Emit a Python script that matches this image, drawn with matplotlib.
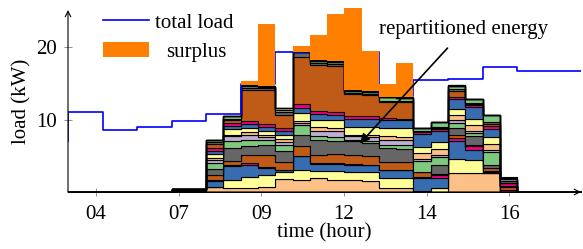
import matplotlib.pyplot as plt
from matplotlib.lines import Line2D
from matplotlib.patches import Patch
import numpy as np

plt.rcParams['font.family'] = 'serif'
plt.rcParams['font.serif'] = ['Liberation Serif', 'DejaVu Serif']

# time slots on the x axis, ticks labelled with the hour
n_slots = 30
tick_pos = [1.61, 6.40, 11.19, 15.97, 20.76, 25.55]
tick_labels = ["04", "07", "09", "12", "14", "16"]

# total load (kW) per slot, the line starts from load_start
load_start = 7.1
total_load = [11.1, 11.1, 8.6, 8.6, 9.0, 9.0, 9.8, 9.8, 10.75, 10.75,
              14.9, 14.9, 19.4, 19.4, 19.4, 19.4, 19.4, 19.4, 13.3, 13.3,
              15.45, 15.45, 15.6, 15.6, 17.35, 17.35, 16.75, 16.75, 16.75, 16.75]

# surplus (kW) stacked above the repartitioned energy
surplus = [0, 0, 0, 0, 0, 0, 0, 0, 0, 0,
           0.65, 8.55, 0, 0.8, 3.5, 6.5, 11.45, 5.5, 1.7, 4.75,
           0, 0, 0, 0, 0, 0, 0, 0, 0, 0]

# repartitioned energy: load of each device (bottom to top) per slot
first_slot = 6
s06 = [.08, .08, .08, .08, .08]
s07 = [.08, .08, .08, .08, .08]
s08 = [.65, .1, .8, .15, .7, .8, .8, .45, .3, .45, .45, .5, .45, .35, .25]
s09 = [.5, 1.2, 1.85, .2, .5, 1.85, .9, .7, .25, .7, .45, .5, .35, .2, .3]
s10 = [.5, 1.6, 1.65, .2, 1.15, 1.2, .9, .7, .45, .5, .6, .3, 4.4, .3, .15, 0, 0, 0, .15]
s11 = [.65, 1.7, 1.0, .1, 1.6, 1.4, .7, .5, .3, .5, .6, .35, 4.65, .3, .15, 0, 0, 0, .15]
s12 = [1.8, .9, .3, .1, 1.0, 1.6, .8, .4, .4, .6, .6, .3, 1.8, .4, .3, .1, .2]
s13 = [1.67, 1.4, 1.85, .1, 1.3, 1.6, 1.3, .3, .3, 1.1, .7, .5, 6.5, .7, .1]
s14 = [1.9, 1.0, 1.0, .1, 1.1, 2.1, .5, .8, .5, 1.0, .8, .4, 6.3, .3, .3, 0, 0, 0, .1]
s15 = [1.7, 1.2, 1.0, .1, 1.2, 1.9, .5, .8, .5, 1.0, .8, .4, 6.3, .3, .3, 0, 0, 0, .1]
s16 = [1.67, 1.15, .93, .1, 1.3, 1.86, .2, .5, .2, 1.1, 1.1, .4, 3.0, .15, .3, 0, 0, 0, .1]
s17 = [1.5, 1.2, 1.0, .1, 1.2, 1.8, .3, .5, .3, 1.1, 1.1, .4, 2.9, .15, .3, 0, 0, 0, .1]
s18 = [.5, 1.4, 1.15, .05, 1.1, 1.87, .43, .7, .5, 1.15, 1.15, .2, 2.3, .1, .5, 0, 0, 0, .1]
s19 = [.6, 1.3, 1.15, .05, 1.1, 1.8, .45, .7, .5, 1.15, 1.15, .2, 2.3, .1, .5, 0, 0, 0, .1]
s20 = [.1, .1, 1.7, .2, .7, 0, 1.45, .35, .8, .8, 1.85, .3, .15, 0, .35]
s21 = [0, .5, 1.5, .35, .2, 1.15, 1.15, .25, .9, .9, 1.5, .35, .1, .1, .75]
s22 = [2.6, 1.9, 2.5, .5, .4, .95, .65, .4, .8, .8, 1.4, .3, .7, .3, .5, 0, 0, 0, .15]
s23 = [2.6, 1.8, 1.4, .6, .15, 1.15, .4, .3, .9, .8, 1.6, .3, .15, .1, .6]
s24 = [2.6, 0, .1, .2, .35, .5, 1.8, .2, .9, .9, 1.2, .4, .3, .2, .95]
s25 = [0, 0, 0, .3, .35, .2, 0, 0, 0, 0, 0, .35, .1, .2, 0, .3, 0, 0, .1, .2]
bar_slots = [s06, s07, s08, s09, s10, s11, s12, s13, s14, s15,
             s16, s17, s18, s19, s20, s21, s22, s23, s24, s25]

accent = ["#7fc97f", "#beaed4", "#fdc086", "#ffff99",
          "#386cb0", "#f0027f", "#bf5b17", "#666666"]
n_layers = 20
layer_colors = [accent[(k + 2) % 8] for k in range(n_layers)]

layers = np.zeros((n_layers, n_slots))
for i, vals in enumerate(bar_slots):
    layers[:len(vals), first_slot + i] = vals

fs = 15
fig = plt.figure(figsize=(5.83, 2.49), dpi=100)
ax = fig.add_axes([68 / 583, 57 / 249, 513 / 583, 182 / 249])

xb = np.arange(n_slots + 1)
bottom = np.zeros(n_slots)
for k in range(n_layers):
    top = bottom + layers[k]
    ax.fill_between(xb, np.append(bottom, bottom[-1]), np.append(top, top[-1]),
                    step='post', facecolor=layer_colors[k], edgecolor='black',
                    linewidth=0.8, zorder=2)
    bottom = top

ax.step(np.r_[0, xb], np.r_[load_start, total_load, total_load[-1]],
        where='post', color='blue', lw=1.2, zorder=3)

sur = np.array(surplus)
ax.fill_between(xb, np.append(bottom, bottom[-1]),
                np.append(bottom + sur, bottom[-1] + sur[-1]),
                step='post', facecolor='#ff8000', edgecolor='none',
                zorder=4, clip_on=False)

ax.text(22.92, 22.5, "repartitioned energy", ha='center', va='center', fontsize=fs)
ax.annotate('', xy=(16.9, 6.7), xytext=(21.97, 19.9),
            arrowprops=dict(arrowstyle='-|>', color='black', lw=1.2,
                            mutation_scale=14, shrinkA=0, shrinkB=0), zorder=5)

ax.set_xlim(0, 29.7)
ax.set_ylim(0, 25.17)
for s in ax.spines.values():
    s.set_visible(False)
for xy in [(1, 0), (0, 1)]:
    ax.annotate('', xy=xy, xytext=(0, 0), xycoords='axes fraction',
                textcoords='axes fraction', annotation_clip=False,
                arrowprops=dict(arrowstyle='->', lw=0.8, color='black',
                                shrinkA=0, shrinkB=0))

ax.set_xticks(tick_pos)
ax.set_xticklabels(tick_labels)
ax.set_yticks([10, 20])
ax.tick_params(direction='inout', length=6, width=0.6, color='gray', labelsize=fs)
ax.tick_params(axis='x', pad=6)
ax.tick_params(axis='y', pad=5)
ax.set_xlabel("time (hour)", fontsize=fs, labelpad=0)
ax.set_ylabel("load (kW)", fontsize=fs, labelpad=3)

handles = [Line2D([], [], color='blue', lw=1.2), Patch(facecolor='#ff8000')]
leg = ax.legend(handles, ["total load", "surplus"], loc='upper left',
                bbox_to_anchor=(0.068, 0.985), frameon=False, fontsize=fs,
                handlelength=2.2, handleheight=0.75, handletextpad=0.3,
                labelspacing=0.45, borderpad=0, borderaxespad=0)
# centre the shorter label under the longer one, as in the original
leg.get_texts()[1].set_x(11)

fig.savefig("out.png", dpi=100)
